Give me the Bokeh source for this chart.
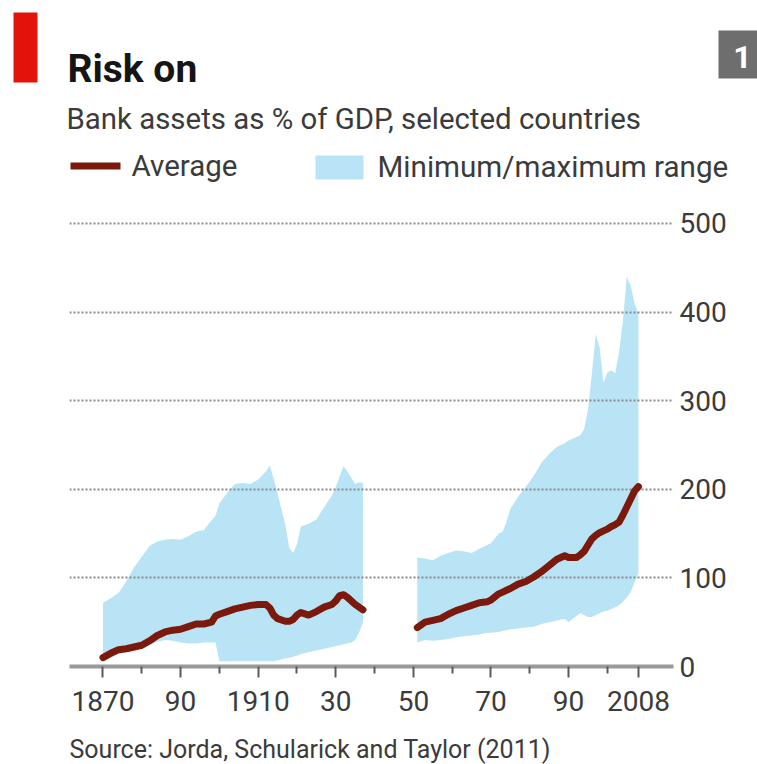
from bokeh.plotting import figure
from bokeh.models import ColumnDataSource, FixedTicker, Label, Range1d
from bokeh.layouts import column
from bokeh.embed import file_html
from bokeh.resources import INLINE

# ---------------- data ----------------
years_pre = [1870, 1872, 1874, 1876, 1878, 1880, 1882, 1884, 1886, 1888, 1890, 1892, 1894,
             1896, 1898, 1899, 1900, 1902, 1904, 1906, 1908, 1910, 1912, 1913, 1914, 1915,
             1917, 1918, 1919, 1920, 1921, 1923, 1925, 1927, 1929, 1930, 1931, 1932, 1933,
             1934, 1935, 1936, 1937]
avg_pre = [10, 15, 19, 20, 22, 24, 29, 35, 39, 41, 42, 45, 48,
           48, 50, 57, 59, 62, 65, 67, 69, 70, 70, 66, 58, 54,
           51, 51, 53, 58, 61, 58, 62, 67, 70, 74, 80, 81, 78,
           74, 70, 67, 64]
min_pre = [6, 10, 14, 16, 18, 20, 24, 28, 30, 29, 27, 26, 26,
           27, 27, 27, 6, 6, 6, 6, 6, 6, 6, 6, 6, 7,
           9, 10, 11, 12, 14, 16, 18, 20, 22, 23, 24, 25, 26,
           27, 30, 38, 50]
max_pre = [72, 77, 83, 96, 112, 124, 136, 141, 143, 144, 143, 147, 152,
           154, 165, 170, 184, 196, 206, 207, 206, 211, 220, 227, 212, 195,
           160, 134, 128, 138, 158, 161, 166, 180, 193, 203, 215, 226, 220,
           213, 206, 208, 207]

years_post = [1951, 1953, 1955, 1957, 1959, 1961, 1963, 1965, 1967, 1969, 1970, 1972, 1973,
              1974, 1975, 1977, 1979, 1981, 1983, 1985, 1987, 1989, 1990, 1992, 1993, 1994,
              1995, 1996, 1997, 1998, 1999, 2000, 2001, 2002, 2003, 2004, 2005, 2006, 2007,
              2008]
avg_post = [44, 50, 52, 54, 59, 63, 66, 69, 72, 73, 75, 82, 84,
            86, 88, 93, 96, 101, 107, 114, 121, 125, 123, 123, 126, 130,
            137, 144, 148, 151, 153, 155, 158, 160, 163, 171, 180, 189, 198,
            203]
min_post = [27, 30, 29, 30, 31, 33, 34, 35, 36, 38, 38, 39, 40,
            41, 42, 43, 44, 45, 48, 50, 52, 54, 50, 57, 60, 58,
            56, 56, 58, 60, 62, 63, 65, 67, 69, 73, 78, 84, 95,
            105]
max_post = [123, 122, 120, 125, 128, 131, 130, 128, 133, 137, 139, 150, 152,
            163, 178, 192, 203, 215, 230, 240, 248, 252, 255, 259, 261, 268,
            290, 330, 375, 360, 320, 332, 334, 331, 355, 390, 440, 430, 410,
            398]

x_major_ticks = [1870, 1890, 1910, 1930, 1950, 1970, 1990, 2008]
x_major_labels = ["1870", "90", "1910", "30", "50", "70", "90", "2008"]
x_minor_ticks = [1880, 1900, 1920, 1940, 1960, 1980, 2000]
y_ticks = [0, 100, 200, 300, 400, 500]
grid_ticks = [100, 200, 300, 400, 500]

title_text = "Risk on"
subtitle_text = "Bank assets as % of GDP, selected countries"
legend_avg = "Average"
legend_range = "Minimum/maximum range"
source_text = "Source: Jorda, Schularick and Taylor (2011)"
chart_number = "1"

# ---------------- style ----------------
W = 757
HEAD_H, MAIN_H, FOOT_H = 200, 536, 28
FL, FR, FT, FB = 69, 673, 15, 466          # main frame (FT/FB inside main figure)
X0, X1 = 1861.37, 2017.04
Y0, Y1 = 0, 509

FONT = "Roboto"
TXT = "#3b3b3b"
BLUE = "#b9e4f6"
RED_LINE = "#7b1a0c"


def blank(height):
    f = figure(width=W, height=height, x_range=Range1d(0, W), y_range=Range1d(height, 0),
               output_backend="svg", toolbar_location=None,
               x_axis_location=None, y_axis_location=None,
               min_border=0, min_border_left=0, min_border_right=0,
               min_border_top=0, min_border_bottom=0)
    f.frame_align = False
    f.grid.visible = False
    f.outline_line_color = None
    f.background_fill_color = "white"
    f.border_fill_color = "white"
    return f


def txt(fig, x, baseline, text, size, color=TXT, bold=False, align="left"):
    # anchor at the vertical middle of the text box (baseline - 0.34 em)
    fig.add_layout(Label(x=x, y=baseline - 0.34 * size, text=text, text_font=FONT,
                         text_font_size=f"{size}px",
                         text_font_style="bold" if bold else "normal", text_color=color,
                         text_align=align, text_baseline="middle"))


# ---------------- header ----------------
head = blank(HEAD_H)
head.quad(left=[13], right=[37], top=[12], bottom=[82], fill_color="#e3120b", line_color=None)
head.quad(left=[718], right=[757], top=[30], bottom=[78], fill_color="#6e6e6e", line_color=None)
txt(head, 742, 67, chart_number, 32, color="white", bold=True, align="center")
txt(head, 67, 82, title_text, 39, color="#151515", bold=True)
txt(head, 66, 128, subtitle_text, 29.4)
head.quad(left=[70], right=[120], top=[162], bottom=[169], fill_color=RED_LINE, line_color=None)
txt(head, 131, 176, legend_avg, 29.5)
head.quad(left=[315], right=[363], top=[155], bottom=[179], fill_color=BLUE, line_color=None)
txt(head, 377, 177, legend_range, 29.6)

# ---------------- main chart ----------------
p = figure(width=W, height=MAIN_H, x_range=Range1d(X0, X1), y_range=Range1d(Y0, Y1),
           output_backend="svg", toolbar_location=None, y_axis_location="right",
           min_border_left=FL, min_border_right=W - FR,
           min_border_top=FT, min_border_bottom=MAIN_H - FB)
p.frame_align = False
p.background_fill_color = "white"
p.border_fill_color = "white"
p.outline_line_color = None

src_pre = ColumnDataSource(dict(year=years_pre, avg=avg_pre, lo=min_pre, hi=max_pre))
src_post = ColumnDataSource(dict(year=years_post, avg=avg_post, lo=min_post, hi=max_post))

for src in (src_pre, src_post):
    band = p.varea(x="year", y1="lo", y2="hi", source=src, fill_color=BLUE, fill_alpha=1.0)
    band.level = "image"
for src in (src_pre, src_post):
    p.line(x="year", y="avg", source=src, line_color=RED_LINE, line_width=7,
           line_join="round", line_cap="round")

p.xgrid.visible = False
p.ygrid.ticker = FixedTicker(ticks=grid_ticks)
p.ygrid.grid_line_color = "#8a8a8a"
p.ygrid.grid_line_width = 2
p.ygrid.grid_line_dash = "2 2"

xa = p.xaxis[0]
xa.ticker = FixedTicker(ticks=x_major_ticks, minor_ticks=x_minor_ticks)
xa.major_label_overrides = {t: l for t, l in zip(x_major_ticks, x_major_labels)}
xa.axis_line_color = "#9a9a9a"
xa.axis_line_width = 4
xa.major_tick_in = 0
xa.major_tick_out = 11
xa.major_tick_line_color = "#5a5a5a"
xa.major_tick_line_width = 2
xa.minor_tick_in = 0
xa.minor_tick_out = 7
xa.minor_tick_line_color = "#5a5a5a"
xa.minor_tick_line_width = 2
xa.major_label_standoff = 13
xa.major_label_text_font = FONT
xa.major_label_text_font_size = "28px"
xa.major_label_text_color = TXT

ya = p.yaxis[0]
ya.ticker = FixedTicker(ticks=y_ticks)
ya.axis_line_color = None
ya.major_tick_line_color = None
ya.minor_tick_line_color = None
ya.major_tick_in = 0
ya.major_tick_out = 0
ya.major_label_standoff = 6
ya.major_label_text_font = FONT
ya.major_label_text_font_size = "28px"
ya.major_label_text_color = TXT

# ---------------- footer ----------------
foot = blank(FOOT_H)
txt(foot, 69, 21, source_text, 25)

layout = column(head, p, foot, spacing=0)
open("out.html", "w").write(file_html(layout, INLINE))
